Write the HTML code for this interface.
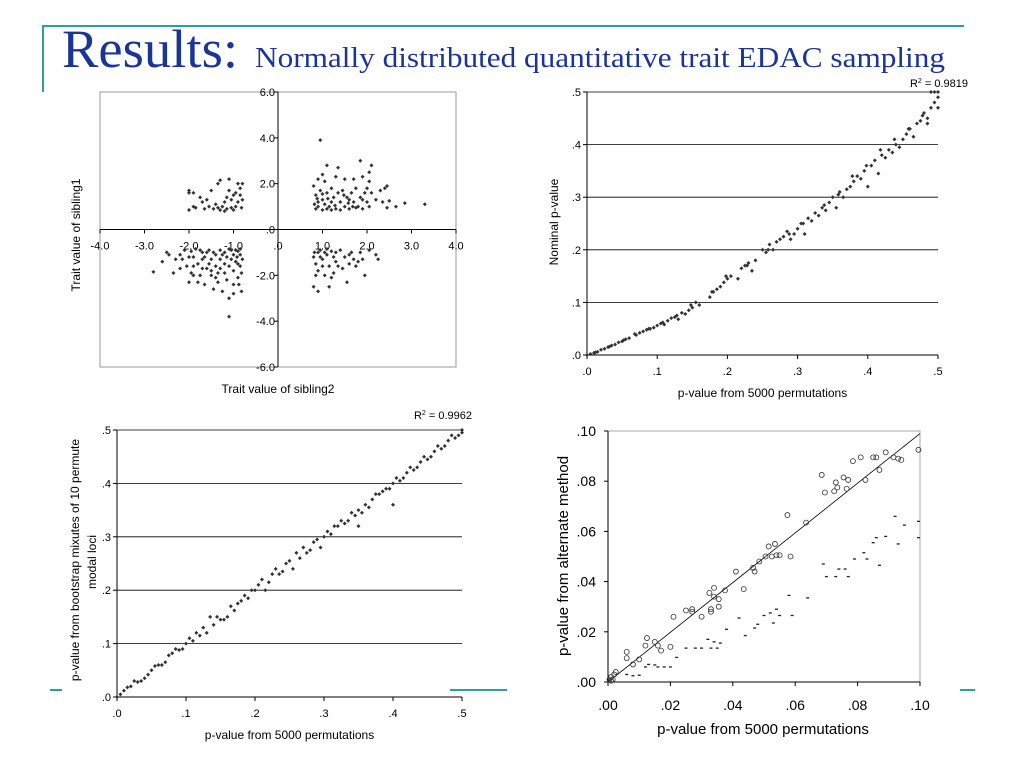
<!DOCTYPE html>
<html><head><meta charset="utf-8"><style>
html,body{margin:0;padding:0;background:#fff;}
svg{display:block;}
text{font-family:"Liberation Sans",sans-serif;fill:#000;}
</style></head><body>
<svg id="s" width="1024" height="768" viewBox="0 0 1024 768">
<line x1="43" y1="26" x2="964" y2="26" stroke="#2aa0a0" stroke-width="2"/>
<line x1="43" y1="25" x2="43" y2="92" stroke="#2aa0a0" stroke-width="2"/>
<line x1="50" y1="690" x2="62" y2="690" stroke="#2aa0a0" stroke-width="2"/>
<line x1="450" y1="690" x2="507" y2="690" stroke="#2aa0a0" stroke-width="2"/>
<line x1="960" y1="690" x2="975" y2="690" stroke="#2aa0a0" stroke-width="2"/>
<text x="62" y="67" font-size="54" textLength="176" lengthAdjust="spacingAndGlyphs" style="font-family:'Liberation Serif',serif;fill:#1b3597">Results:</text>
<text x="255" y="67" font-size="28" textLength="690" lengthAdjust="spacingAndGlyphs" style="font-family:'Liberation Serif',serif;fill:#1b3597">Normally distributed quantitative trait  EDAC sampling</text>
<g id="c1"></g>
<g id="c2"></g>
<g id="c3"></g>
<g id="c4"></g>
</svg>
<script>
// Chart 1 data
const c1X = [0.95,1.1,1.35,1.85,2.1,2.05,1.0,0.9,1.05,1.3,1.5,1.7,1.9,2.05,2.45,2.5,2.65,2.85,3.3,2.3,2.0,0.8,0.85,0.9,0.85,0.9,1.0,1.0,1.1,1.2,1.15,1.25,1.3,1.4,1.45,1.5,1.55,1.6,1.65,1.7,1.75,1.8,1.85,1.9,1.95,2.0,2.1,2.2,2.35,2.45,0.95,1.05,1.1,1.2,1.35,1.4,1.6,1.75,0.82,0.88,1.0,1.12,1.28,1.48,1.58,1.68,1.9,2.05,2.4,1.2,
-2.0,-2.0,-1.9,-2.0,-1.9,-1.85,-1.75,-1.7,-1.65,-1.6,-1.5,-1.45,-1.4,-1.35,-1.3,-1.3,-1.25,-1.2,-1.15,-1.1,-1.1,-1.05,-1.0,-1.0,-0.95,-0.9,-0.9,-0.85,-0.85,-0.8,-0.8,-0.82,-1.2,-1.35,-1.55,-1.15,-0.95,-1.05,
-2.8,-2.6,-2.5,-2.45,-2.35,-2.3,-2.2,-2.1,-2.05,-2.0,-1.95,-1.9,-1.85,-1.8,-1.75,-1.7,-1.65,-1.6,-1.55,-1.5,-1.45,-1.4,-1.35,-1.3,-1.25,-1.2,-1.15,-1.1,-1.1,-1.1,-1.05,-1.0,-1.0,-0.95,-0.9,-0.9,-0.85,-0.82,-0.85,-0.8,-1.9,-1.8,-1.7,-1.6,-1.5,-1.4,-1.3,-1.2,-1.2,-1.1,-1.0,-0.95,-0.9,-0.85,-0.82,-1.35,-1.55,-1.7,-2.0,-2.2,-1.45,-1.25,-1.05,-0.92,-1.15,-1.65,-1.9,-1.0,-1.3,-1.5,-0.88,-1.75,-1.95,-2.15,-1.4,
0.8,0.9,0.85,0.9,0.85,0.8,0.9,0.95,1.0,1.05,1.1,1.15,1.2,1.15,1.25,1.3,1.3,1.4,1.45,1.5,1.55,1.6,1.65,1.7,1.8,1.85,1.9,1.95,2.05,2.2,2.25,1.0,0.95,1.1,1.25,1.35,1.75,1.05,0.82,1.2,1.6];
const c1Y = [3.9,2.8,2.7,3.0,2.8,2.5,2.4,2.2,2.1,2.3,2.2,2.2,2.3,2.1,1.9,1.25,1.0,1.15,1.1,1.7,1.8,1.9,1.5,1.2,0.9,1.0,0.85,1.3,1.6,1.8,1.0,1.4,0.9,1.2,1.7,1.0,1.4,0.9,1.6,1.2,1.8,1.0,1.4,0.9,1.6,1.2,1.6,1.3,1.2,0.95,1.7,1.1,0.9,1.2,1.6,0.85,1.3,0.95,1.1,1.35,1.55,1.35,1.05,1.5,1.15,1.0,1.3,1.0,1.8,0.85,
1.7,1.6,1.6,0.85,1.0,0.95,1.4,1.2,0.9,1.3,1.7,0.9,1.1,2.0,2.15,0.85,1.0,1.2,0.9,2.2,1.7,1.3,0.85,1.5,1.0,2.0,1.2,1.5,1.8,2.0,1.3,0.95,0.8,0.95,1.0,1.4,1.6,0.95,
-1.85,-1.4,-1.0,-1.1,-1.9,-1.3,-1.1,-0.9,-1.6,-2.3,-1.9,-1.2,-0.85,-1.5,-2.0,-1.0,-2.4,-1.7,-0.9,-1.3,-2.6,-1.1,-1.9,-0.9,-2.7,-1.5,-2.2,-0.85,-3.0,-3.8,-1.3,-2.8,-1.8,-0.9,-1.5,-2.1,-1.1,-2.7,-0.85,-1.3,-1.6,-2.3,-1.3,-1.0,-2.0,-1.6,-1.3,-1.0,-1.9,-1.6,-1.1,-1.4,-0.95,-1.6,-1.9,-2.3,-1.5,-1.7,-1.2,-1.7,-1.0,-1.1,-0.9,-1.2,-1.2,-1.2,-2.0,-2.4,-1.7,-1.8,-2.4,-0.9,-0.95,-1.3,-2.1,
-2.5,-2.7,-2.0,-1.8,-1.5,-1.2,-1.0,-0.9,-1.3,-1.0,-0.85,-1.6,-2.1,-2.5,-1.9,-1.0,-1.4,-0.9,-1.7,-1.2,-2.3,-1.5,-1.0,-1.3,-1.4,-1.0,-1.3,-2.0,-0.9,-1.1,-1.3,-1.6,-1.2,-1.1,-1.2,-1.6,-1.6,-2.0,-1.0,-0.95,-1.1];
const c1XTicks = ["-4.0","-3.0","-2.0","-1.0",".0","1.0","2.0","3.0","4.0"];
const c1YTicks = ["-6.0","-4.0","-2.0",".0","2.0","4.0","6.0"];

// Chart 2 data
const c2X = [0,.005,.01,.015,.02,.025,.03,.035,.04,.045,.05,.055,.06,.07,.075,.08,.085,.09,.095,.1,.105,.11,.115,.12,.125,.13,.135,.14,.145,.15,.155,.16,.175,.18,.185,.19,.195,.2,.205,.215,.22,.225,.23,.235,.24,.25,.255,.26,.265,.27,.275,.28,.285,.29,.295,.3,.305,.31,.315,.32,.325,.33,.335,.34,.345,.35,.355,.36,.365,.37,.375,.38,.385,.39,.395,.4,.405,.41,.415,.42,.425,.43,.435,.44,.445,.45,.455,.46,.465,.47,.475,.48,.485,.49,.495,.5,.49,.5,.485,.495,.012,.032,.052,.068,.088,.108,.128,.148,.178,.198,.228,.258,.288,.308,.338,.358,.378,.398,.418,.438,.458,.478,.5];
const c2Y = [0,.002,.004,.006,.01,.012,.015,.018,.02,.024,.026,.03,.032,.038,.042,.045,.048,.05,.052,.056,.06,.058,.065,.07,.072,.068,.08,.078,.085,.09,.1,.095,.11,.12,.125,.13,.138,.145,.15,.145,.165,.17,.175,.16,.18,.2,.195,.21,.2,.215,.22,.225,.235,.22,.23,.24,.25,.23,.26,.255,.27,.265,.28,.275,.29,.3,.28,.31,.3,.315,.32,.33,.34,.335,.35,.32,.36,.37,.345,.38,.375,.39,.385,.4,.395,.41,.42,.43,.415,.44,.445,.46,.45,.47,.48,.5,.5,.49,.44,.5,.005,.016,.028,.04,.05,.062,.075,.095,.12,.15,.17,.2,.23,.25,.285,.305,.34,.36,.39,.41,.43,.455,.47];
const c2XTicks = [".0",".1",".2",".3",".4",".5"];
const c2YTicks = [".0",".1",".2",".3",".4",".5"];

// Chart 3 data
const c3X = [0,.005,.01,.015,.02,.025,.03,.04,.045,.05,.055,.06,.07,.075,.08,.09,.095,.1,.105,.11,.12,.125,.13,.14,.145,.15,.16,.165,.17,.18,.185,.19,.2,.205,.21,.22,.225,.23,.24,.245,.25,.26,.265,.27,.28,.285,.29,.3,.305,.31,.32,.325,.33,.34,.345,.35,.36,.365,.37,.38,.385,.39,.4,.405,.41,.42,.425,.43,.44,.445,.45,.46,.465,.47,.48,.485,.49,.495,.5,.5,.035,.065,.085,.115,.135,.155,.175,.195,.215,.235,.255,.275,.295,.315,.335,.355,.375,.395,.415,.435,.455,.475,.35,.4];
const c3Y = [0,.005,.012,.018,.02,.03,.028,.035,.042,.05,.058,.06,.065,.078,.082,.088,.09,.1,.11,.105,.115,.13,.12,.135,.15,.145,.15,.17,.162,.18,.19,.185,.2,.21,.22,.215,.23,.24,.235,.25,.255,.27,.26,.28,.275,.29,.295,.3,.31,.305,.32,.33,.325,.345,.34,.35,.36,.355,.37,.38,.385,.39,.4,.41,.405,.42,.43,.425,.44,.45,.445,.46,.47,.465,.48,.49,.485,.49,.5,.495,.03,.06,.09,.12,.15,.145,.175,.2,.2,.23,.24,.27,.28,.32,.33,.345,.38,.39,.41,.43,.45,.47,.32,.36];
const c3XTicks = [".0",".1",".2",".3",".4",".5"];
const c3YTicks = [".0",".1",".2",".3",".4",".5"];

// Chart 4 data
const c4CircX = [.0005,.001,.0015,.002,.001,.0025,.006,.006,.008,.01,.012,.0125,.015,.016,.017,.02,.021,.025,.027,.027,.03,.0325,.033,.033,.034,.034,.0355,.0355,.0375,.041,.0435,.0465,.047,.0485,.0505,.0515,.0525,.0535,.054,.055,.0575,.0585,.0635,.0685,.0695,.0725,.073,.0735,.0755,.0765,.077,.0785,.081,.0825,.085,.086,.087,.089,.0915,.093,.094,.0995];
const c4CircY = [.001,.002,.001,.003,.0005,.004,.012,.0095,.007,.009,.0145,.0175,.016,.0145,.0125,.014,.026,.0285,.029,.028,.026,.0355,.029,.028,.0375,.034,.033,.03,.0365,.044,.037,.0455,.044,.048,.05,.054,.05,.055,.0505,.0505,.0665,.05,.0635,.0825,.0755,.076,.0795,.0775,.0815,.077,.0805,.088,.0895,.0805,.0895,.0895,.0845,.0915,.0895,.089,.0885,.0925];
const c4DashX = [.006,.008,.01,.012,.013,.015,.016,.018,.02,.022,.025,.028,.03,.032,.033,.034,.035,.036,.038,.042,.044,.047,.048,.05,.052,.053,.054,.055,.058,.059,.064,.069,.07,.073,.074,.076,.077,.079,.082,.083,.085,.086,.087,.089,.092,.093,.095,.0995,.0995];
const c4DashY = [.003,.0025,.0027,.006,.007,.0068,.006,.006,.006,.0098,.0135,.0135,.0135,.017,.0135,.016,.0135,.0155,.021,.0255,.0185,.0215,.023,.0265,.0275,.0235,.029,.0265,.0345,.0265,.0335,.047,.042,.042,.045,.045,.042,.049,.0515,.049,.0555,.0575,.0465,.058,.066,.055,.0625,.064,.0575];
const c4FitX = [0,.1];
const c4FitY = [0,.099];
const c4XTicks = [".00",".02",".04",".06",".08",".10"];
const c4YTicks = [".00",".02",".04",".06",".08",".10"];

const NS = "http://www.w3.org/2000/svg";
function mk(parent, tag, attrs, txt){
  const e = document.createElementNS(NS, tag);
  for (const k in attrs) e.setAttribute(k, attrs[k]);
  if (txt !== undefined) e.textContent = txt;
  parent.appendChild(e); return e;
}
function lin(d0,d1,r0,r1){ return v => r0 + (v-d0)/(d1-d0)*(r1-r0); }
function diamond(g, x, y, r, name){
  const p = mk(g,'path',{d:`M${x} ${y-r}L${x+r} ${y}L${x} ${y+r}L${x-r} ${y}Z`, fill:'#333'});
  
  
}

// ---- Chart 1 ----
(function(){
  const g = document.getElementById('c1');
  const sx = lin(-4,4,100,456), sy = lin(-6,6,367,92);
  const fr = mk(g,'rect',{x:100,y:92,width:356,height:275,fill:'none',stroke:'#999'});
   
  const xa = mk(g,'line',{x1:100,y1:sy(0),x2:456,y2:sy(0),stroke:'#000'});
   
  const ya = mk(g,'line',{x1:sx(0),y1:92,x2:sx(0),y2:367,stroke:'#000'});
   
  c1XTicks.forEach((t,i)=>{ const v=-4+i; const x=sx(v);
    mk(g,'line',{x1:x,y1:sy(0),x2:x,y2:sy(0)+4,stroke:'#000'});
    const e=mk(g,'text',{x:x,y:sy(0)+20,'font-size':11,'text-anchor':'middle'},t);
      });
  c1YTicks.forEach((t,i)=>{ const v=-6+2*i; const y=sy(v);
    mk(g,'line',{x1:sx(0)-4,y1:y,x2:sx(0),y2:y,stroke:'#000'});
    const e=mk(g,'text',{x:sx(0)-3,y:y+4,'font-size':11,'text-anchor':'end'},t);
      });
  c1X.forEach((v,i)=>diamond(g,sx(v),sy(c1Y[i]),2,'point'));
  const xt=mk(g,'text',{x:278,y:393,'font-size':12,'text-anchor':'middle'},'Trait value of sibling2');
   
  const yt=mk(g,'text',{x:0,y:0,'font-size':12,'text-anchor':'middle',transform:'translate(80,235) rotate(-90)'},'Trait value of sibling1');
   
})();

function gridChart(id, X, Y, L,R,T,B, xTicks, yTicks, r2, xTitle, yTitles, r2x, r2y){
  const g = document.getElementById(id);
  const sx = lin(0,.5,L,R), sy = lin(0,.5,B,T);
  yTicks.forEach((t,i)=>{ const v=i*.1, y=sy(v);
    if(i>0){ const gl=mk(g,'line',{x1:L,y1:y,x2:R,y2:y,stroke:'#000','stroke-width':0.8});
        }
    mk(g,'line',{x1:L-4,y1:y,x2:L,y2:y,stroke:'#000'});
    const e=mk(g,'text',{x:L-6,y:y+4,'font-size':11,'text-anchor':'end'},t);
      });
  xTicks.forEach((t,i)=>{ const x=sx(i*.1);
    mk(g,'line',{x1:x,y1:B,x2:x,y2:B+4,stroke:'#000'});
    const e=mk(g,'text',{x:x,y:B+20,'font-size':11,'text-anchor':'middle'},t);
      });
  const ya=mk(g,'line',{x1:L,y1:T,x2:L,y2:B,stroke:'#000'});
   
  const xa=mk(g,'line',{x1:L,y1:B,x2:R,y2:B,stroke:'#000'});
   
  X.forEach((v,i)=>diamond(g,sx(v),sy(Y[i]),2,'point'));
  const xt=mk(g,'text',{x:(L+R)/2,y:B+42,'font-size':12,'text-anchor':'middle'},xTitle);
   
  yTitles.forEach((yt,i)=>{ const e=mk(g,'text',{x:0,y:0,'font-size':12,'text-anchor':'middle',transform:`translate(${yt[1]},${yt[2]}) rotate(-90)`},yt[0]);
      });
  const rt=mk(g,'text',{x:r2x,y:r2y,'font-size':11,'text-anchor':'end'});
   
  rt.innerHTML = 'R<tspan dy="-4" font-size="7">2</tspan><tspan dy="4"> = '+r2+'</tspan>';
}
gridChart('c2', c2X, c2Y, 587,938,92,355, c2XTicks, c2YTicks, '0.9819', 'p-value from 5000 permutations', [['Nominal p-value',558,222]], 968, 87);
gridChart('c3', c3X, c3Y, 117,462,430,697, c3XTicks, c3YTicks, '0.9962', 'p-value from 5000 permutations', [['p-value from bootstrap mixutes of 10 permute',79,560],['modal loci',96,562]], 472, 419);

// ---- Chart 4 ----
(function(){
  const g = document.getElementById('c4');
  const L=608,R=920,T=431,B=682;
  const sx = lin(0,.1,L,R), sy = lin(0,.1,B,T);
  const fr=mk(g,'rect',{x:L,y:T,width:R-L,height:B-T,fill:'none',stroke:'#aaa'});
   
  mk(g,'line',{x1:L,y1:T,x2:L,y2:B,stroke:'#000'});
  mk(g,'line',{x1:L,y1:B,x2:R,y2:B,stroke:'#000'});
  c4XTicks.forEach((t,i)=>{ const x=sx(i*.02);
    mk(g,'line',{x1:x,y1:B,x2:x,y2:B+4,stroke:'#000'});
    const e=mk(g,'text',{x:x,y:B+28,'font-size':14,'text-anchor':'middle'},t);
      });
  c4YTicks.forEach((t,i)=>{ const y=sy(i*.02);
    mk(g,'line',{x1:L-4,y1:y,x2:L,y2:y,stroke:'#000'});
    const e=mk(g,'text',{x:L-12,y:y+5,'font-size':14,'text-anchor':'end'},t);
      });
  const fl=mk(g,'line',{x1:sx(c4FitX[0]),y1:sy(c4FitY[0]),x2:sx(c4FitX[1]),y2:sy(c4FitY[1]),stroke:'#000','stroke-width':0.8});
   
  c4CircX.forEach((v,i)=>{ const c=mk(g,'circle',{cx:sx(v),cy:sy(c4CircY[i]),r:2.5,fill:'none',stroke:'#333','stroke-width':0.8});
      });
  c4DashX.forEach((v,i)=>{ const d=mk(g,'line',{x1:sx(v)-1.5,y1:sy(c4DashY[i]),x2:sx(v)+1.5,y2:sy(c4DashY[i]),stroke:'#222','stroke-width':1.3});
      });
  const xt=mk(g,'text',{x:763,y:734,'font-size':15,'text-anchor':'middle'},'p-value from 5000 permutations');
   
  const yt=mk(g,'text',{x:0,y:0,'font-size':15,'text-anchor':'middle',transform:'translate(568,556) rotate(-90)'},'p-value from alternate method');
   
})();
</script>
</body></html>
